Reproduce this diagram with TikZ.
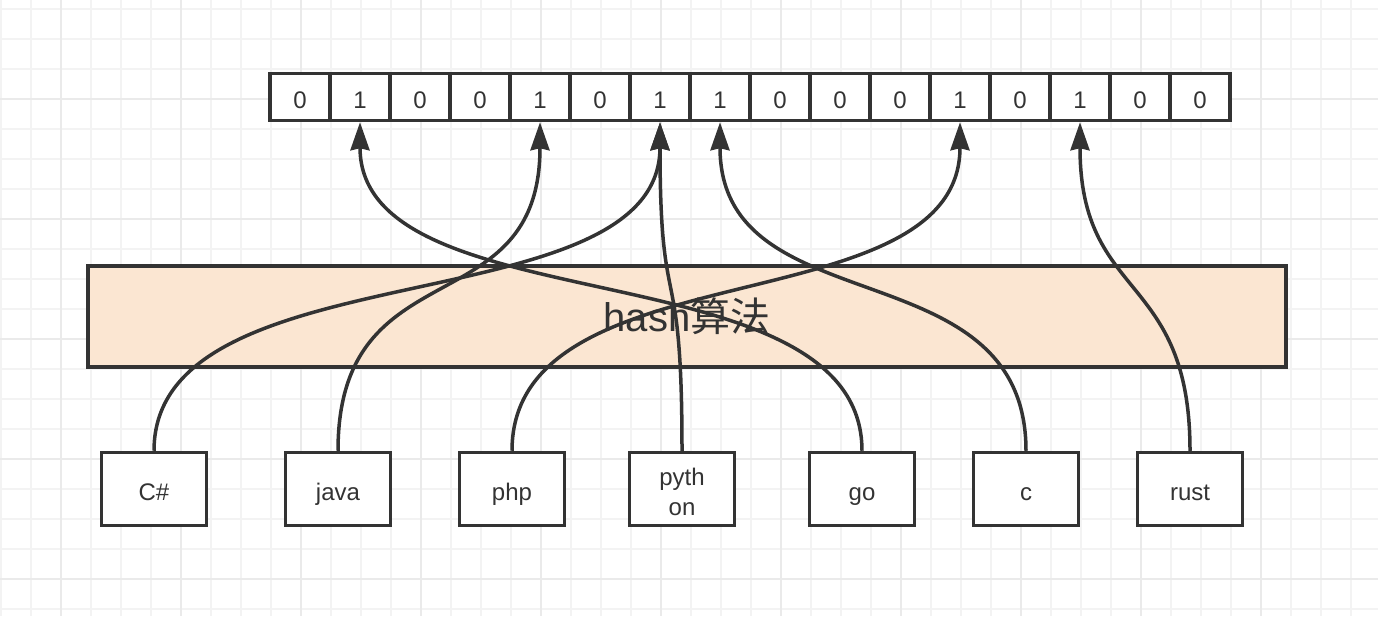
\documentclass[tikz,border=0pt]{standalone}
\usepackage{fontspec}
\setmainfont{Liberation Sans}
\newfontfamily\cjk{Noto Sans CJK SC}
\usetikzlibrary{arrows.meta}
\definecolor{ink}{RGB}{51,51,51}
\definecolor{peach}{RGB}{251,230,210}
\definecolor{gridmin}{RGB}{243,243,243}
\definecolor{gridmaj}{RGB}{234,234,234}

\begin{document}
\begin{tikzpicture}[x=1pt, y=-1pt, >={Stealth[length=28pt, width=19pt, inset=2pt]},
    bit/.style={draw=ink, line width=3.5pt, fill=white, minimum width=60pt, minimum height=47pt, inner sep=0pt, text=ink, font=\fontsize{24}{30}\selectfont, text height=23pt, text depth=0pt},
    lang/.style={draw=ink, line width=3.5pt, fill=white, minimum width=105pt, minimum height=73pt, inner sep=0pt, align=center, text=ink, font=\fontsize{24}{30}\selectfont, text height=22pt, text depth=0pt},
    link/.style={->, draw=ink, line width=3.5pt}]
    % Fond quadrille
    \useasboundingbox (0,0) rectangle (1378,616);
    \fill[white] (0,0) rectangle (1378,616);
    \foreach \gx in {1,31,...,1378} \draw[gridmin, line width=1.3pt] (\gx,0) -- (\gx,616);
    \foreach \gy in {9,39,...,616} \draw[gridmin, line width=1.3pt] (0,\gy) -- (1378,\gy);
    \foreach \gx in {61,181,...,1378} \draw[gridmaj, line width=1.5pt] (\gx,0) -- (\gx,616);
    \foreach \gy in {99,219,...,616} \draw[gridmaj, line width=1.5pt] (0,\gy) -- (1378,\gy);

    % Tableau de bits
    \foreach \v [count=\i from 0] in {0,1,0,0,1,0,1,1,0,0,0,1,0,1,0,0}
        \node[bit] (b\i) at ({300+60*\i}, 97) {\v};

    % hash
    \node[draw=ink, line width=3.5pt, fill=peach, minimum width=1198pt, minimum height=101pt, inner sep=0pt, text=ink, font=\fontsize{40}{48}\selectfont] (hash) at (687,316.5) {hash{\cjk 算法}};

    % Langages
    \node[lang] (cs) at (154,489) {C\#};
    \node[lang] (java) at (338,489) {java};
    \node[lang] (php) at (512,489) {php};
    \node[lang, text height=52pt, text depth=0pt] (python) at (682,489) {pyth\\on};
    \node[lang] (go) at (862,489) {go};
    \node[lang] (c) at (1026,489) {c};
    \node[lang] (rust) at (1190,489) {rust};

    % Fleches
    \draw[link] (cs.north) .. controls +(0,-205) and +(0,205) .. (b6.south);
    \draw[link] (java.north) .. controls +(0,-205) and +(0,205) .. (b4.south);
    \draw[link] (php.north) .. controls +(0,-205) and +(0,205) .. (b11.south);
    \draw[link] (python.north) .. controls +(0,-205) and +(0,205) .. (b6.south);
    \draw[link] (go.north) .. controls +(0,-205) and +(0,205) .. (b1.south);
    \draw[link] (c.north) .. controls +(0,-205) and +(0,205) .. (b7.south);
    \draw[link] (rust.north) .. controls +(0,-180) and +(0,180) .. (b13.south);
\end{tikzpicture}
\end{document}
